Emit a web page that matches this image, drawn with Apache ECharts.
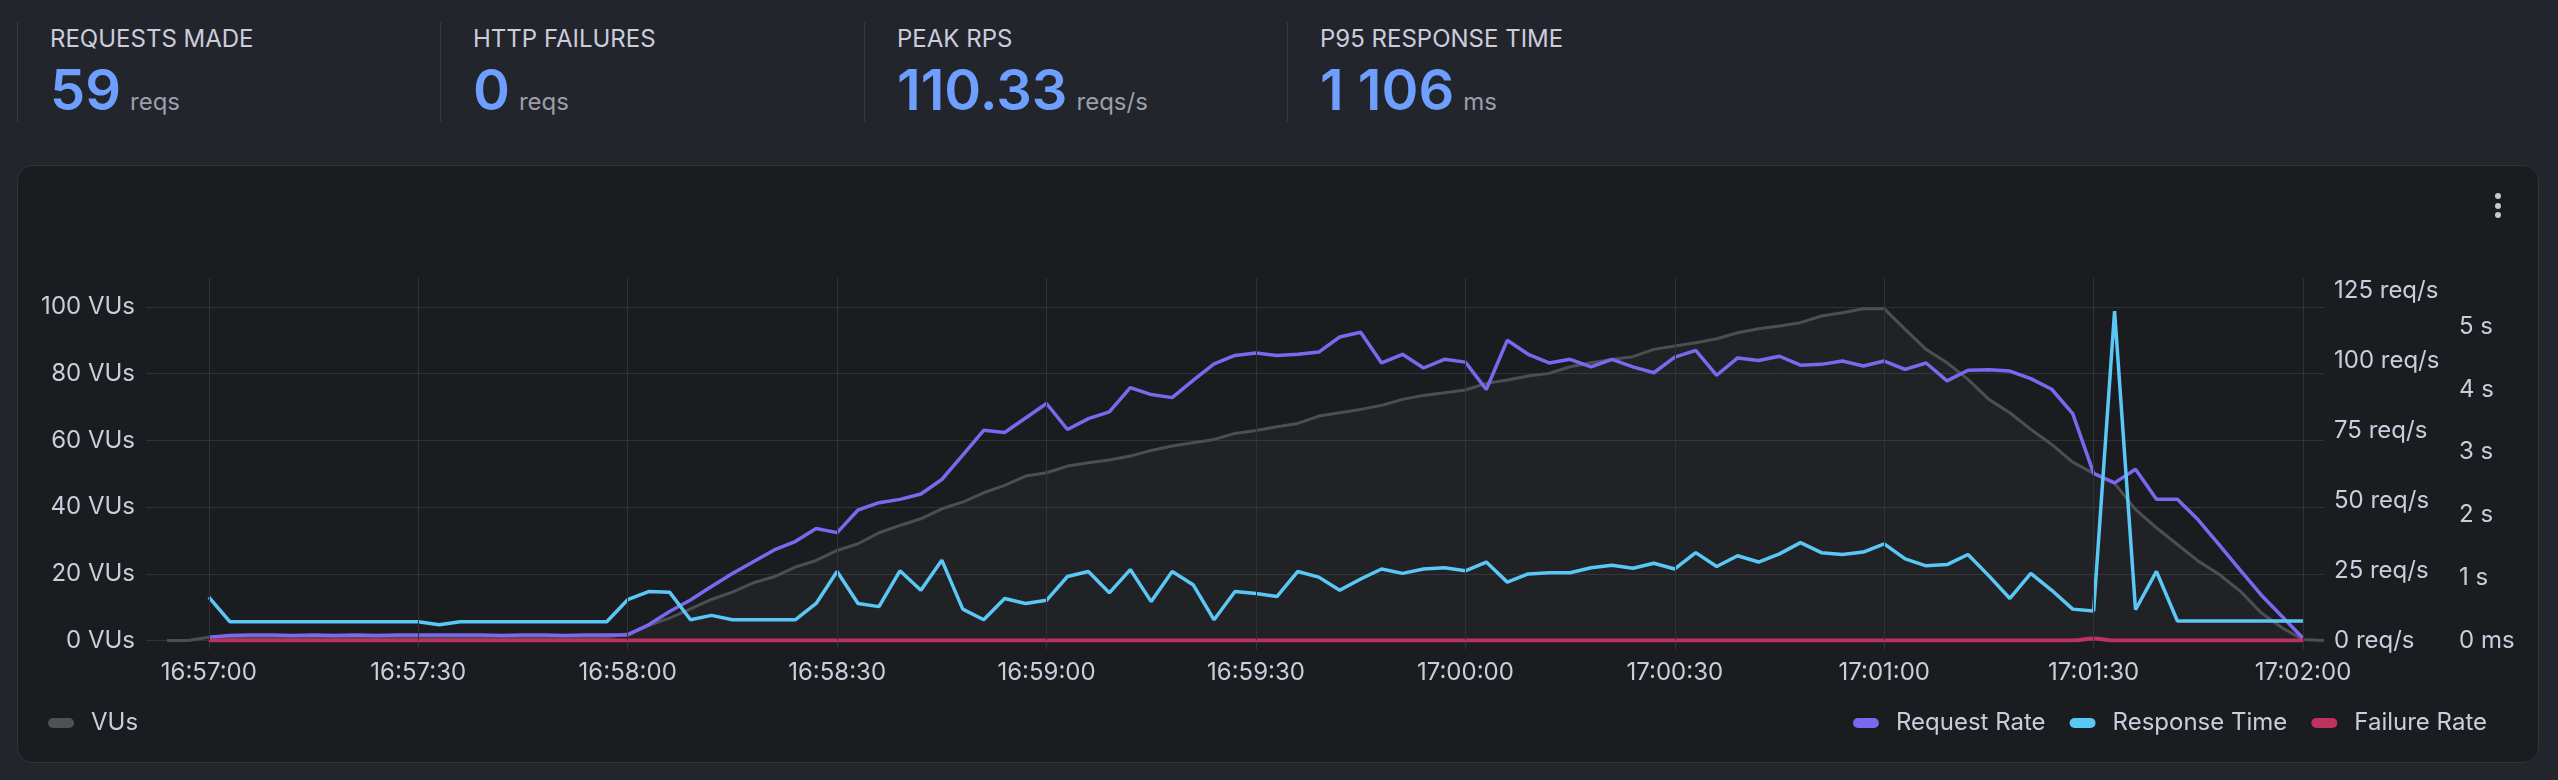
<!DOCTYPE html>
<html>
<head>
<meta charset="utf-8">
<title>Load test overview</title>
<script src="https://cdn.jsdelivr.net/npm/echarts@6/dist/echarts.min.js"></script>
<style>
  html, body {
    margin: 0; padding: 0;
    width: 2558px; height: 780px; overflow: hidden;
    background: #22252b;
    font-family: Inter, "Noto Sans", sans-serif;
  }
  .stat { position: absolute; top: 0; }
  .stat .sep { position: absolute; left: 0; top: 22px; width: 1px; height: 100px; background: #383b42; }
  .stat .title {
    position: absolute; left: 33px; top: 27px;
    font-size: 24px; line-height: 24px; color: #ccccdc; white-space: nowrap;
  }
  .stat .value {
    position: absolute; left: 33px; top: 62px;
    display: flex; align-items: baseline; white-space: nowrap;
  }
  .stat .num { font-size: 56px; line-height: 56px; font-weight: 600; color: #6e9fff; }
  .stat .unit { font-size: 24px; color: #9d9ea9; margin-left: 9px; }
  #panel {
    position: absolute; left: 17px; top: 165px; width: 2522px; height: 598px;
    box-sizing: border-box; background: #1b1c20;
    border: 1px solid #303238; border-radius: 16px;
  }
  .dot { position: absolute; left: 2495px; width: 6px; height: 6px; border-radius: 3px; background: #c8c9d0; }
  #chart-container { position: absolute; left: 0; top: 0; width: 2558px; height: 780px; }
</style>
</head>
<body>
<div class="stat" style="left:17px"><div class="sep"></div><div class="title">REQUESTS MADE</div><div class="value"><span class="num">59</span><span class="unit">reqs</span></div></div>
<div class="stat" style="left:440px"><div class="sep"></div><div class="title">HTTP FAILURES</div><div class="value"><span class="num">0</span><span class="unit">reqs</span></div></div>
<div class="stat" style="left:864px"><div class="sep"></div><div class="title">PEAK RPS</div><div class="value"><span class="num">110.33</span><span class="unit">reqs/s</span></div></div>
<div class="stat" style="left:1287px"><div class="sep"></div><div class="title">P95 RESPONSE TIME</div><div class="value"><span class="num">1 106</span><span class="unit">ms</span></div></div>
<div id="panel"></div>
<div class="dot" style="top:193px"></div>
<div class="dot" style="top:203px"></div>
<div class="dot" style="top:212px"></div>
<div id="chart-container"></div>
<script>
var dom = document.getElementById('chart-container');
var myChart = echarts.init(dom, null, { renderer: 'canvas', useDirtyRect: false });

// x axis tick labels, range and sampling
const timeTicks = ['16:57:00', '16:57:30', '16:58:00', '16:58:30', '16:59:00', '16:59:30',
  '17:00:00', '17:00:30', '17:01:00', '17:01:30', '17:02:00'];
const axisStart = '16:56:51';
const axisEnd = '17:02:03';
const vusStart = '16:56:54';
const metricsStart = '16:57:00';
const stepSeconds = 3;

// VUs, every 3 s from 16:56:54
const vus = [
  0, 0,
  1, 1, 1, 1, 1, 1, 1, 1, 1, 1, 1, 1, 1, 1, 1, 1, 1, 1, 1, 1,
  2, 4.5, 6.7, 9.5, 12.3, 14.5, 17.3, 19.1, 22, 24, 27, 29, 32.3, 34.5, 36.5, 39.5, 41.5, 44.3, 46.5, 49.3, 50.3,
  52.3, 53.3, 54.1, 55.3, 57, 58.3, 59.3, 60.3, 62.1, 63, 64.1, 65.1, 67.3, 68.3, 69.3, 70.5, 72.3, 73.5, 74.3, 75.1,
  77.1, 78.1, 79.3, 80.1, 82.1, 83.3, 84.3, 85.1, 87.3, 88.3, 89.3, 90.5, 92.3, 93.5, 94.3, 95.3, 97.3, 98.3, 99.5, 99.5,
  93.3, 87.3, 83.3, 78.3, 72.3, 68.3, 63.3, 58.8, 53.5, 50.1, 47.1, 39.3, 33.8, 28.8, 23.8, 19.8, 14.8, 8.3, 3.8, 0.3,
  0
];

// req/s, every 3 s from 16:57:00
const requestRate = [
  1.2, 1.8, 2.0, 2.0, 1.8, 2.0, 1.8, 2.0, 1.8, 2.0, 2.0, 2.0, 2.0, 2.0, 1.8, 2.0, 2.0, 1.8, 2.0, 2.0,
  2.0, 5.6, 10.4, 14.5, 19.3, 24.0, 28.2, 32.4, 35.4, 40.1, 38.6, 46.7, 49.3, 50.5, 52.4, 57.6, 66.3, 75.2, 74.4, 79.6, 84.8,
  75.5, 79.4, 81.8, 90.5, 88.0, 86.9, 93.1, 99.0, 102.0, 102.9, 102.0, 102.4, 103.2, 108.6, 110.3, 99.3, 102.4, 97.5, 100.6, 99.6,
  89.8, 107.4, 102.4, 99.3, 100.6, 97.9, 100.6, 97.9, 95.8, 101.4, 103.8, 94.9, 101.1, 100.2, 101.7, 98.5, 98.8, 100.0, 98.2, 100.0,
  97.0, 99.3, 92.9, 96.7, 96.9, 96.4, 93.7, 89.9, 81.2, 59.8, 56.4, 61.3, 50.5, 50.5, 43.1, 34.2, 25.2, 16.3, 8.6, 0.8
];

// ms, every 3 s from 16:57:00
const responseTime = [
  690, 300, 300, 300, 300, 300, 300, 300, 300, 300, 300, 250, 300, 300, 300, 300, 300, 300, 300, 300,
  650, 780, 770, 330, 400, 330, 330, 330, 330, 590, 1100, 590, 540, 1110, 800, 1280, 500, 330, 670, 590, 640,
  1020, 1100, 760, 1130, 620, 1100, 890, 330, 780, 750, 700, 1100, 1010, 800, 980, 1140, 1070, 1140, 1160, 1110,
  1250, 930, 1060, 1080, 1080, 1160, 1200, 1150, 1230, 1140, 1400, 1180, 1350, 1250, 1380, 1560, 1400, 1370, 1410, 1540,
  1300, 1190, 1210, 1370, 1030, 670, 1070, 800, 500, 470, 5250, 490, 1100, 310, 310, 310, 310, 310, 310, 310
];

// req/s, every 3 s from 16:57:00
const failureRate = [
  0, 0, 0, 0, 0, 0, 0, 0, 0, 0, 0, 0, 0, 0, 0, 0, 0, 0, 0, 0,
  0, 0, 0, 0, 0, 0, 0, 0, 0, 0, 0, 0, 0, 0, 0, 0, 0, 0, 0, 0, 0,
  0, 0, 0, 0, 0, 0, 0, 0, 0, 0, 0, 0, 0, 0, 0, 0, 0, 0, 0, 0,
  0, 0, 0, 0, 0, 0, 0, 0, 0, 0, 0, 0, 0, 0, 0, 0, 0, 0, 0, 0,
  0, 0, 0, 0, 0, 0, 0, 0, 0, 0.7, 0, 0, 0, 0, 0, 0, 0, 0, 0, 0
];

function toTime(hms) {
  const p = hms.split(':').map(Number);
  return new Date(2024, 0, 1, p[0], p[1], p[2]).getTime();
}
function pad(n) { return (n < 10 ? '0' : '') + n; }
function fmtTime(v) {
  const d = new Date(v);
  return pad(d.getHours()) + ':' + pad(d.getMinutes()) + ':' + pad(d.getSeconds());
}
function withTimes(values, start) {
  const t0 = toTime(start);
  return values.map((v, i) => [t0 + i * stepSeconds * 1000, v]);
}

const gridColor = '#303237';
const labelColor = '#ccccdc';
const font = 'Inter';
const pill = 'path://M5,0H21A5,5,0,0,1,21,10H5A5,5,0,0,1,5,0Z';
const tickValues = timeTicks.map(toTime);

var option = {
  animation: false,
  textStyle: { fontFamily: font },
  grid: { left: 146, right: 234, top: 278, bottom: 139.5 },
  legend: [
    {
      data: ['VUs'], left: 43, top: 706,
      icon: pill, itemWidth: 26, itemHeight: 10, selectedMode: false,
      textStyle: { color: labelColor, fontSize: 24, fontFamily: font, padding: [0, 0, 0, 12] }
    },
    {
      data: ['Request Rate', 'Response Time', 'Failure Rate'], right: 66, top: 706,
      icon: pill, itemWidth: 26, itemHeight: 10, itemGap: 24, selectedMode: false,
      textStyle: { color: labelColor, fontSize: 24, fontFamily: font, padding: [0, 0, 0, 12] }
    }
  ],
  xAxis: {
    type: 'value',
    min: toTime(axisStart),
    max: toTime(axisEnd),
    axisLine: { show: false },
    axisTick: { show: true, length: 9, customValues: tickValues, lineStyle: { color: gridColor } },
    axisLabel: {
      color: labelColor, fontSize: 24, fontFamily: font, margin: 20,
      customValues: tickValues,
      formatter: fmtTime
    },
    splitLine: { show: false }
  },
  yAxis: [
    {
      type: 'value', position: 'left', min: 0, max: 108.7, interval: 20,
      axisLine: { show: false }, axisTick: { show: false },
      axisLabel: { color: labelColor, fontSize: 24, fontFamily: font, margin: 11, showMaxLabel: false, formatter: '{value} VUs' },
      splitLine: { show: true, showMaxLine: false, lineStyle: { color: gridColor, width: 1 } }
    },
    {
      type: 'value', position: 'right', min: 0, max: 129.7, interval: 25,
      axisLine: { show: false }, axisTick: { show: false },
      axisLabel: { color: labelColor, fontSize: 24, fontFamily: font, margin: 10, showMaxLabel: false, formatter: '{value} req/s' },
      splitLine: { show: false }
    },
    {
      type: 'value', position: 'right', min: 0, max: 5776, interval: 1000,
      axisLine: { show: false }, axisTick: { show: false },
      axisLabel: {
        color: labelColor, fontSize: 24, fontFamily: font, margin: 135, showMaxLabel: false,
        formatter: function (v) { return v === 0 ? '0 ms' : (v / 1000) + ' s'; }
      },
      splitLine: { show: false }
    }
  ],
  series: [
    {
      name: 'VUs', type: 'line', yAxisIndex: 0, data: withTimes(vus, vusStart),
      showSymbol: false, silent: true,
      itemStyle: { color: '#505156' },
      lineStyle: { color: '#4d4e53', width: 3 },
      areaStyle: { color: 'rgba(255,255,255,0.04)' },
      // vertical grid lines at the time ticks
      markLine: {
        silent: true, symbol: ['none', 'none'], animation: false,
        label: { show: false },
        lineStyle: { color: gridColor, width: 1, type: 'solid' },
        emphasis: { disabled: true },
        data: tickValues.map(v => ({ xAxis: v }))
      }
    },
    {
      name: 'Request Rate', type: 'line', yAxisIndex: 1, data: withTimes(requestRate, metricsStart),
      showSymbol: false, silent: true,
      itemStyle: { color: '#7b68ee' },
      lineStyle: { color: '#7b68ee', width: 3.5 }
    },
    {
      name: 'Response Time', type: 'line', yAxisIndex: 2, data: withTimes(responseTime, metricsStart),
      showSymbol: false, silent: true,
      itemStyle: { color: '#5ac8f5' },
      lineStyle: { color: '#5ac8f5', width: 3.5 }
    },
    {
      name: 'Failure Rate', type: 'line', yAxisIndex: 1, data: withTimes(failureRate, metricsStart),
      showSymbol: false, silent: true, smooth: true,
      itemStyle: { color: '#c0325e' },
      lineStyle: { color: '#c0325e', width: 4 }
    }
  ]
};

if (option && typeof option === 'object') {
  myChart.setOption(option);
}

window.addEventListener('resize', myChart.resize);
</script>
</body>
</html>
